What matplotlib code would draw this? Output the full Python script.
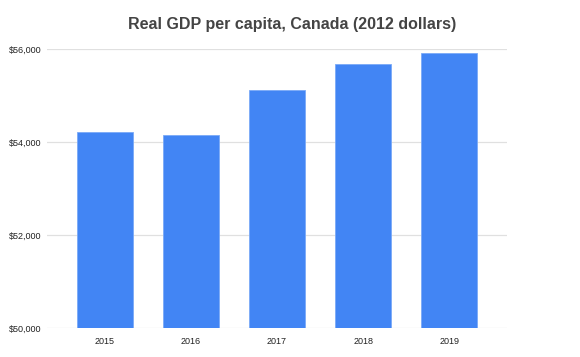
import matplotlib
matplotlib.use("Agg")
import matplotlib.pyplot as plt
from matplotlib.ticker import FuncFormatter

years = ["2015", "2016", "2017", "2018", "2019"]
gdp = [54220, 54150, 55125, 55677, 55914]
yticks = [50000, 52000, 54000, 56000]

plt.rcParams["font.family"] = ["Liberation Sans", "DejaVu Sans"]

fig = plt.figure(figsize=(5.8, 3.57), dpi=100)
ax = fig.add_axes([0.081, 0.080, 0.793, 0.783])
x = list(range(len(years)))
ax.bar(x, gdp, width=0.65, color="#4285F4", zorder=3, edgecolor="#7aaaf7", linewidth=0.6)
ax.set_ylim(50000, 56000)
ax.set_xlim(-0.67, 4.67)
ax.set_yticks(yticks)
ax.yaxis.set_major_formatter(FuncFormatter(lambda v, p: f"${v:,.0f}"))
ax.set_xticks(x)
ax.set_xticklabels(years)
ax.grid(axis="y", color="#e0e0e0", linewidth=0.9, zorder=0)
for s in ax.spines.values():
    s.set_visible(False)
ax.tick_params(axis="both", length=0, labelsize=6.5, colors="#222222", pad=6)
ax.tick_params(axis="y", pad=4)
fig.text(0.503, 0.93, "Real GDP per capita, Canada (2012 dollars)", fontsize=11.5,
         fontweight="bold", color="#444444", ha="center", va="center")
fig.savefig("out.png", dpi=100)
